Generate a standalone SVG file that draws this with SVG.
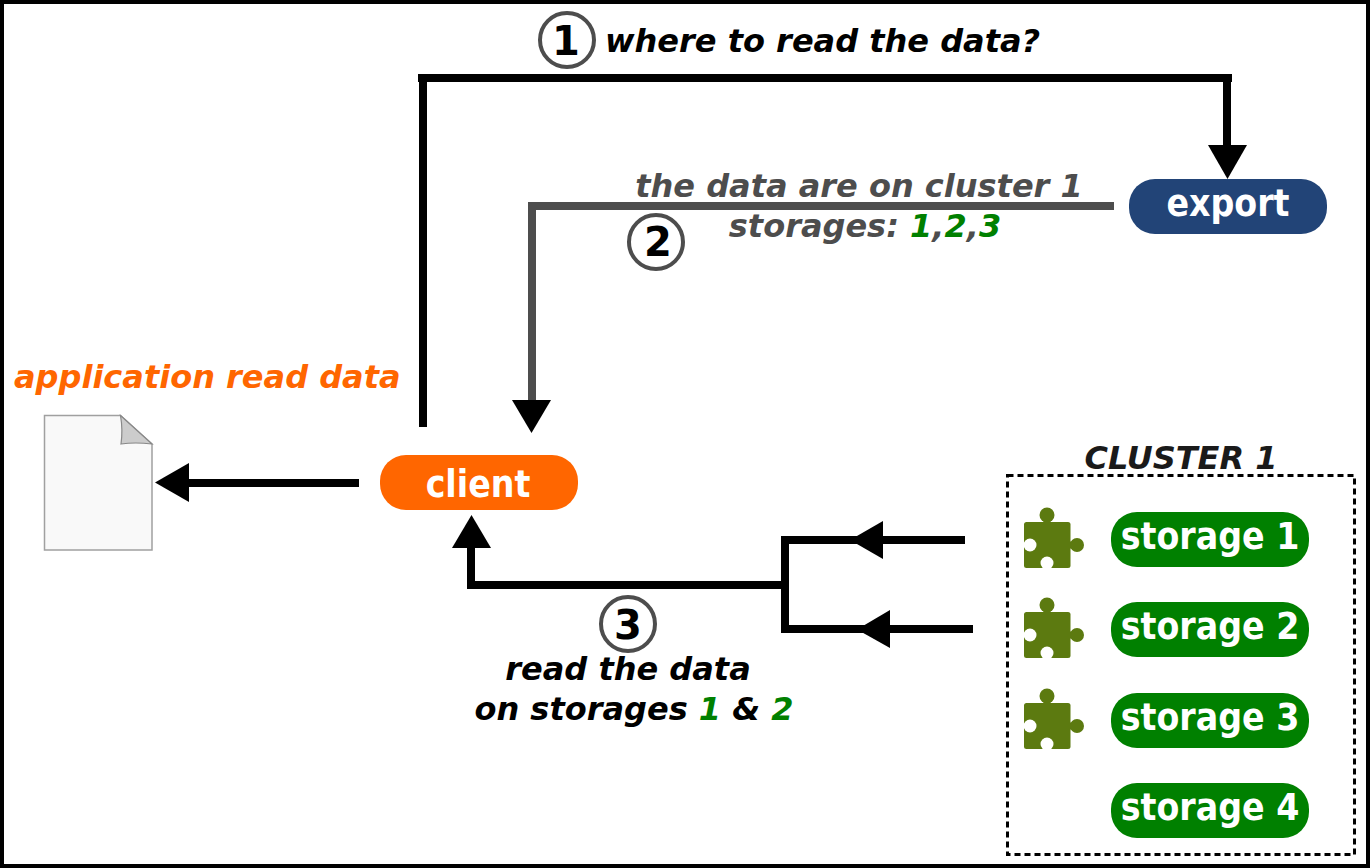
<svg xmlns="http://www.w3.org/2000/svg" xmlns:xlink="http://www.w3.org/1999/xlink" width="1370" height="868" viewBox="0 0 1370 868">
<style>
text{font-family:"DejaVu Sans",sans-serif}
.t{font-size:32px;font-weight:bold;font-style:italic}
.pill{font-size:37px;font-weight:bold;font-stretch:condensed;font-family:"DejaVu Sans Condensed","DejaVu Sans",sans-serif;fill:#fff;text-anchor:middle}
.num{font-size:40px;font-weight:bold;text-anchor:middle;fill:#000}
.ring{fill:#fff;stroke:#4d4d4d;stroke-width:4}
.k{fill:none;stroke:#000;stroke-width:8}
.g{fill:none;stroke:#4d4d4d;stroke-width:8}
.green{fill:#008000}
.pz{fill:#5c7a10}
</style>
<defs>
<g id="puzzle">
<circle class="pz" cx="23" cy="-7" r="7.500"/>
<rect class="pz" x="19.500" y="-2" width="7" height="4"/>
<circle class="pz" cx="53" cy="23" r="7"/>
<rect class="pz" x="44" y="19.500" width="5" height="7"/>
<rect class="pz" x="0" y="0" width="46.500" height="46" rx="2.500"/>
<circle cx="6" cy="23" r="6.500" fill="#fff"/>
<circle cx="23" cy="41" r="6.500" fill="#fff"/>
</g>
</defs>
<rect x="2" y="2" width="1366" height="864" fill="#fff" stroke="#000" stroke-width="4"/>
<g id="connectors">
<path class="k" d="M423 427V78"/>
<path class="k" d="M418 78H1232"/>
<path class="k" d="M1227 74V150"/>
<path d="M1208 145H1247L1227.500 179Z"/>
<path class="g" d="M1114 206H532V405"/>
<path d="M512 400H551L531.500 433Z"/>
<path class="k" d="M359 483H185"/>
<path d="M189 463V502L155 482.500Z"/>
<path class="k" d="M471 545V585H785"/>
<path d="M452 548H491L471.500 515Z"/>
<path class="k" d="M965 540H785V629H973"/>
<path d="M883 521V559L850 540Z"/>
<path d="M890 610V648L857 629.500Z"/>
</g>
<g id="doc">
<path d="M44.500 415.500H120.500L152 444V550H44.500Z" fill="#f9f9f9" stroke="#a0a0a0" stroke-width="1.500"/>
<path d="M120.500 415.500L152 444Q135 442 121 444Q123 430 120.500 415.500Z" fill="#cccccc" stroke="#888" stroke-width="1.200"/>
</g>
<g id="app-label"><text class="t" x="14" y="388" fill="#ff6600">application read data</text></g>
<g id="step1"><circle class="ring" cx="567" cy="40" r="27"/><text class="num" x="566" y="55">1</text>
<text class="t" x="605" y="52" fill="#000">where to read the data?</text></g>
<g id="step2"><circle class="ring" cx="656" cy="242" r="27"/><text class="num" x="658" y="256">2</text>
<text class="t" x="859" y="197" fill="#4d4d4d" text-anchor="middle">the data are on cluster 1</text>
<text class="t" x="865" y="237" fill="#4d4d4d" text-anchor="middle">storages: <tspan class="green">1</tspan>,<tspan class="green">2</tspan>,<tspan class="green">3</tspan></text></g>
<g id="step3"><circle class="ring" cx="628" cy="624" r="27"/><text class="num" x="628" y="639">3</text>
<text class="t" x="628" y="680" fill="#000" text-anchor="middle">read the data</text>
<text class="t" x="634" y="720" fill="#000" text-anchor="middle">on storages <tspan class="green">1</tspan> &amp; <tspan class="green">2</tspan></text></g>
<g id="export"><rect x="1129" y="179" width="198" height="55" rx="26" fill="#224477"/><text class="pill" x="1228" y="216">export</text></g>
<g id="client"><rect x="380" y="455" width="198" height="55" rx="26" fill="#ff6600"/><text class="pill" x="478" y="497">client</text></g>
<g id="cluster"><rect x="1007.500" y="475.500" width="347" height="379" fill="none" stroke="#000" stroke-width="3" stroke-dasharray="6 4"/>
<text class="t" x="1181" y="469" fill="#1a1a1a" text-anchor="middle">CLUSTER 1</text></g>
<g id="storage1"><use xlink:href="#puzzle" href="#puzzle" x="1024" y="522"/><rect x="1111" y="512" width="198" height="55" rx="26" fill="#008000"/><text class="pill" x="1210" y="549">storage 1</text></g>
<g id="storage2"><use xlink:href="#puzzle" href="#puzzle" x="1024" y="612"/><rect x="1111" y="602" width="198" height="55" rx="26" fill="#008000"/><text class="pill" x="1210" y="639">storage 2</text></g>
<g id="storage3"><use xlink:href="#puzzle" href="#puzzle" x="1024" y="703"/><rect x="1111" y="693" width="198" height="55" rx="26" fill="#008000"/><text class="pill" x="1210" y="730">storage 3</text></g>
<g id="storage4"><rect x="1111" y="783" width="198" height="55" rx="26" fill="#008000"/><text class="pill" x="1210" y="820">storage 4</text></g>
</svg>
